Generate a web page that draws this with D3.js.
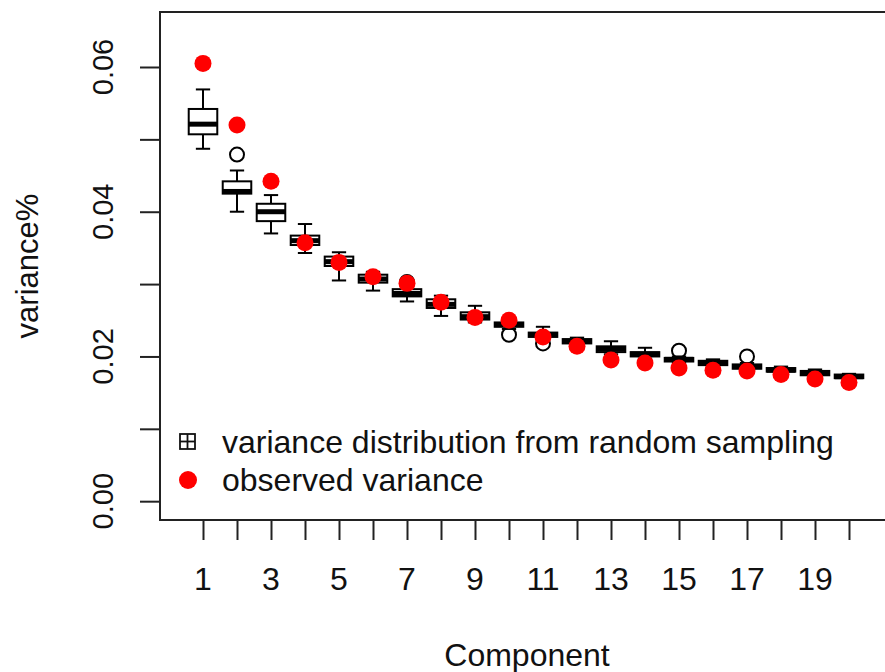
<!DOCTYPE html>
<html>
<head>
<meta charset="utf-8">
<script src="https://cdn.jsdelivr.net/npm/d3@7"></script>
<style>
  body { margin: 0; background: #fff; }
  text { font-family: "Liberation Sans", Arial, Helvetica, sans-serif; fill: #111; }
</style>
</head>
<body>
<div id="chart"></div>
<script>
// component numbers
const components = d3.range(1, 21);
// observed variance (red dots)
const observed = [0.0605, 0.0520, 0.0442, 0.0357, 0.0330, 0.0310, 0.0301, 0.0275, 0.0254, 0.0250,
                  0.0227, 0.0214, 0.0195, 0.0191, 0.0184, 0.0181, 0.0180, 0.0175, 0.0169, 0.0164];
// random sampling distribution: whiskers, quartiles, medians
const whiskLow = [0.0487, 0.0400, 0.0370, 0.0343, 0.0305, 0.0291, 0.0276, 0.0256, 0.0247, 0.0238,
                  0.0224, 0.0215, 0.0203, 0.0197, 0.0191, 0.0186, 0.0181, 0.0177, 0.0172, 0.0168];
const q1 = [0.0507, 0.0425, 0.0387, 0.0354, 0.0325, 0.0302, 0.0283, 0.0267, 0.0251, 0.0241,
            0.0227, 0.0218, 0.0206, 0.0200, 0.0193, 0.0188, 0.0183, 0.0179, 0.0174, 0.0170];
const medians = [0.0521, 0.0428, 0.0400, 0.0360, 0.0331, 0.0307, 0.0287, 0.0272, 0.0255, 0.0244,
                 0.0230, 0.0221, 0.0210, 0.0203, 0.0196, 0.0191, 0.0186, 0.0181, 0.0177, 0.0172];
const q3 = [0.0542, 0.0442, 0.0411, 0.0367, 0.0338, 0.0313, 0.0293, 0.0279, 0.0261, 0.0247,
            0.0233, 0.0224, 0.0214, 0.0206, 0.0198, 0.0194, 0.0189, 0.0184, 0.0180, 0.0175];
const whiskHigh = [0.0569, 0.0457, 0.0423, 0.0383, 0.0344, 0.0317, 0.0298, 0.0284, 0.0270, 0.0253,
                   0.0241, 0.0226, 0.0221, 0.0212, 0.0200, 0.0196, 0.0191, 0.0186, 0.0182, 0.0176];
// outliers: [component, value]
const outliers = [[2, 0.0479], [7, 0.0303], [10, 0.0230], [11, 0.0218], [15, 0.0208], [17, 0.0200]];

const yTicks = [0, 0.01, 0.02, 0.03, 0.04, 0.05, 0.06];
const yLabels = [0, 0.02, 0.04, 0.06];
const xLabels = [1, 3, 5, 7, 9, 11, 13, 15, 17, 19];
const legendLabels = ["variance distribution from random sampling", "observed variance"];

const width = 885, height = 672;
const plotLeft = 160, plotTop = 12, plotBottom = 520, plotRight = 892;

const svg = d3.select("#chart").append("svg")
    .attr("width", width)
    .attr("height", height);

// scales
let x = d3.scaleLinear()
    .domain([1, 20])
    .range([203, 849]);
let y = d3.scaleLinear()
    .domain([-0.0026, 0.0676])
    .range([plotBottom, plotTop]);

const step = x(2) - x(1);
const boxW = step * 0.84;
const capW = boxW * 0.5;

// plot frame
svg.append("rect")
    .attr("x", plotLeft).attr("y", plotTop)
    .attr("width", plotRight - plotLeft).attr("height", plotBottom - plotTop)
    .attr("fill", "none").attr("stroke", "#222").attr("stroke-width", 2);

// y axis
let yAxis = svg.append("g")
    .attr("transform", "translate(" + plotLeft + ",0)")
    .call(d3.axisLeft(y).tickValues(yTicks).tickSize(20).tickFormat(""));
yAxis.select(".domain").remove();
yAxis.selectAll("line").attr("stroke", "#222").attr("stroke-width", 2);
svg.selectAll("yLab")
    .data(yLabels)
    .enter()
    .append("text")
    .attr("transform", function (d) { return "translate(113," + y(d) + ") rotate(-90)"; })
    .attr("text-anchor", "middle")
    .style("font-size", "29px")
    .text(function (d) { return d3.format(".2f")(d); });

// x axis
let xAxis = svg.append("g")
    .attr("transform", "translate(0," + plotBottom + ")")
    .call(d3.axisBottom(x).tickValues(components).tickSize(20).tickFormat(""));
xAxis.select(".domain").remove();
xAxis.selectAll("line").attr("stroke", "#222").attr("stroke-width", 2);
svg.selectAll("xLab")
    .data(xLabels)
    .enter()
    .append("text")
    .attr("x", function (d) { return x(d); })
    .attr("y", 590)
    .attr("text-anchor", "middle")
    .style("font-size", "32px")
    .text(function (d) { return d; });

// axis titles
svg.append("text")
    .attr("x", 527).attr("y", 666)
    .attr("text-anchor", "middle")
    .style("font-size", "32px")
    .text("Component");
svg.append("text")
    .attr("transform", "translate(38," + (plotTop + plotBottom) / 2 + ") rotate(-90)")
    .attr("text-anchor", "middle")
    .style("font-size", "31px")
    .text("variance%");

// boxplots
let boxes = svg.selectAll("box")
    .data(components)
    .enter()
    .append("g");

boxes.append("line")
    .attr("x1", function (d) { return x(d); })
    .attr("x2", function (d) { return x(d); })
    .attr("y1", function (d, i) { return y(whiskHigh[i]); })
    .attr("y2", function (d, i) { return y(whiskLow[i]); })
    .attr("stroke", "#000").attr("stroke-width", 2);
boxes.append("line")
    .attr("x1", function (d) { return x(d) - capW / 2; })
    .attr("x2", function (d) { return x(d) + capW / 2; })
    .attr("y1", function (d, i) { return y(whiskHigh[i]); })
    .attr("y2", function (d, i) { return y(whiskHigh[i]); })
    .attr("stroke", "#000").attr("stroke-width", 2);
boxes.append("line")
    .attr("x1", function (d) { return x(d) - capW / 2; })
    .attr("x2", function (d) { return x(d) + capW / 2; })
    .attr("y1", function (d, i) { return y(whiskLow[i]); })
    .attr("y2", function (d, i) { return y(whiskLow[i]); })
    .attr("stroke", "#000").attr("stroke-width", 2);
boxes.append("rect")
    .attr("x", function (d) { return x(d) - boxW / 2; })
    .attr("y", function (d, i) { return y(q3[i]); })
    .attr("width", boxW)
    .attr("height", function (d, i) { return y(q1[i]) - y(q3[i]); })
    .attr("fill", "#fff").attr("stroke", "#000").attr("stroke-width", 2);
boxes.append("line")
    .attr("x1", function (d) { return x(d) - boxW / 2; })
    .attr("x2", function (d) { return x(d) + boxW / 2; })
    .attr("y1", function (d, i) { return y(medians[i]); })
    .attr("y2", function (d, i) { return y(medians[i]); })
    .attr("stroke", "#000").attr("stroke-width", 5);

// outliers
svg.selectAll("outl")
    .data(outliers)
    .enter()
    .append("circle")
    .attr("cx", function (d) { return x(d[0]); })
    .attr("cy", function (d) { return y(d[1]); })
    .attr("r", 7)
    .attr("fill", "none").attr("stroke", "#000").attr("stroke-width", 2);

// observed variance
svg.selectAll("obs")
    .data(observed)
    .enter()
    .append("circle")
    .attr("cx", function (d, i) { return x(components[i]); })
    .attr("cy", function (d) { return y(d); })
    .attr("r", 8.5)
    .attr("fill", "#ff0000");

// legend
let lg = svg.append("g");
lg.append("rect")
    .attr("x", 180).attr("y", 434).attr("width", 15).attr("height", 15)
    .attr("fill", "none").attr("stroke", "#111").attr("stroke-width", 1.8);
lg.append("line")
    .attr("x1", 187.5).attr("x2", 187.5).attr("y1", 434).attr("y2", 449)
    .attr("stroke", "#111").attr("stroke-width", 1.8);
lg.append("line")
    .attr("x1", 180).attr("x2", 195).attr("y1", 441.5).attr("y2", 441.5)
    .attr("stroke", "#111").attr("stroke-width", 1.8);
lg.append("circle")
    .attr("cx", 188).attr("cy", 480).attr("r", 9)
    .attr("fill", "#ff0000");
lg.selectAll("lgText")
    .data(legendLabels)
    .enter()
    .append("text")
    .attr("x", 222)
    .attr("y", function (d, i) { return 453 + i * 38; })
    .style("font-size", "32px")
    .text(function (d) { return d; });
</script>
</body>
</html>
